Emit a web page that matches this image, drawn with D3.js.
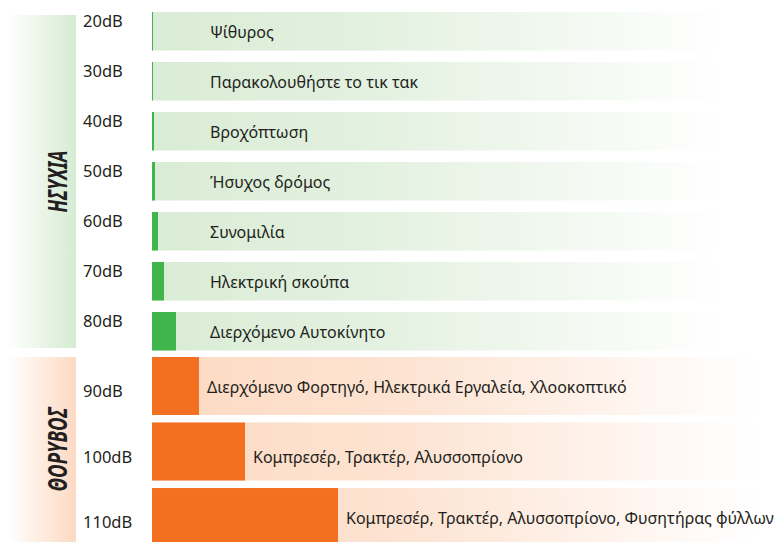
<!DOCTYPE html>
<html>
<head>
<meta charset="utf-8">
<script src="https://cdn.jsdelivr.net/npm/d3@7"></script>
<style>
  body { margin: 0; background: #fff; }
  svg { display: block; font-family: "Noto Sans", "Open Sans", sans-serif; }
</style>
</head>
<body>
<div id="chart"></div>
<script>
// Noise levels and what makes them
const quietLevels = ["20dB", "30dB", "40dB", "50dB", "60dB", "70dB", "80dB"];
const quietValues = [1, 1, 2, 3, 6, 12, 24];
const quietLabels = ["Ψίθυρος", "Παρακολουθήστε το τικ τακ", "Βροχόπτωση", "Ήσυχος δρόμος",
  "Συνομιλία", "Ηλεκτρική σκούπα", "Διερχόμενο Αυτοκίνητο"];

const noiseLevels = ["90dB", "100dB", "110dB"];
const noiseValues = [47, 93, 186];
const noiseLabels = ["Διερχόμενο Φορτηγό, Ηλεκτρικά Εργαλεία, Χλοοκοπτικό",
  "Κομπρεσέρ, Τρακτέρ, Αλυσσοπρίονο",
  "Κομπρεσέρ, Τρακτέρ, Αλυσσοπρίονο, Φυσητήρας φύλλων"];

const groupNames = ["ΗΣΥΧΙΑ", "ΘΟΡΥΒΟΣ"];

const width = 776;
const height = 542;
const barLeft = 152;

const x = d3.scaleLinear()
    .domain([0, 186])
    .range([barLeft, 338]);

const yQuiet = d3.scaleBand()
    .domain(quietLevels)
    .range([12, 350.5])
    .paddingInner(0.23);

const yNoise = d3.scaleBand()
    .domain(noiseLevels)
    .range([357, 546])
    .paddingInner(0.115);

const svg = d3.create("svg")
    .attr("width", width)
    .attr("height", height);

const defs = svg.append("defs");

function hGradient(id, stops) {
  const g = defs.append("linearGradient").attr("id", id)
      .attr("x1", "0%").attr("x2", "100%").attr("y1", "0%").attr("y2", "0%");
  stops.forEach(([o, c]) => g.append("stop").attr("offset", o).attr("stop-color", c));
}
hGradient("rowGreen", [["0", "#d9ecd5"], ["0.35", "#e3f1e0"], ["0.92", "#ffffff"]]);
hGradient("rowOrange", [["0", "#fddac3"], ["0.4", "#fde3d2"], ["0.97", "#ffffff"]]);
hGradient("sideGreen", [["0", "#ffffff"], ["1", "#d6ebd2"]]);
hGradient("sideOrange", [["0", "#ffffff"], ["1", "#fdd9c2"]]);

const groups = [
  { name: groupNames[0], y: yQuiet, levels: quietLevels, values: quietValues, labels: quietLabels,
    bar: "#3fb54b", row: "url(#rowGreen)", side: "url(#sideGreen)", levelDy: 15, textDy: 26, fixedText: true,
    len: 62 },
  { name: groupNames[1], y: yNoise, levels: noiseLevels, values: noiseValues, labels: noiseLabels,
    bar: "#f37021", row: "url(#rowOrange)", side: "url(#sideOrange)", levelDy: 40, textDy: 36, fixedText: false,
    len: 84 }
];

groups.forEach(grp => {
  const [y0, y1] = grp.y.range();
  const top = grp.name === groupNames[0] ? y0 + 3 : y0;
  const bottom = grp.name === groupNames[0] ? y1 - 2.5 : y1;

  // side band
  svg.append("rect")
      .attr("x", 8).attr("y", top)
      .attr("width", 68).attr("height", bottom - top)
      .attr("fill", grp.side);

  svg.append("text")
      .attr("transform", `translate(67,${(top + Math.min(bottom, height)) / 2}) rotate(-90)`)
      .attr("text-anchor", "middle")
      .attr("font-size", 26)
      .attr("font-weight", "bold")
      .attr("font-style", "italic")
      .attr("textLength", grp.len)
      .attr("lengthAdjust", "spacingAndGlyphs")
      .attr("fill", "#231f20")
      .text(grp.name);

  const data = grp.levels.map((l, i) => ({ level: l, value: grp.values[i], label: grp.labels[i] }));
  const row = svg.append("g").selectAll("g").data(data).join("g");

  row.append("rect")
      .attr("x", barLeft)
      .attr("y", d => grp.y(d.level))
      .attr("width", width - barLeft)
      .attr("height", grp.y.bandwidth())
      .attr("fill", grp.row);

  row.append("rect")
      .attr("x", x(0))
      .attr("y", d => grp.y(d.level))
      .attr("width", d => x(d.value) - x(0))
      .attr("height", grp.y.bandwidth())
      .attr("fill", grp.bar);

  row.append("text")
      .attr("x", 83)
      .attr("y", d => grp.y(d.level) + grp.levelDy)
      .attr("font-size", 16.5)
      .attr("fill", "#231f20")
      .text(d => d.level);

  row.append("text")
      .attr("x", d => grp.fixedText ? 210 : x(d.value) + 8)
      .attr("y", d => grp.y(d.level) + grp.textDy + (d.level === "100dB" ? 4 : 0))
      .attr("font-size", 16)
      .attr("fill", "#231f20")
      .text(d => d.label);
});

document.getElementById("chart").append(svg.node());
</script>
</body>
</html>
